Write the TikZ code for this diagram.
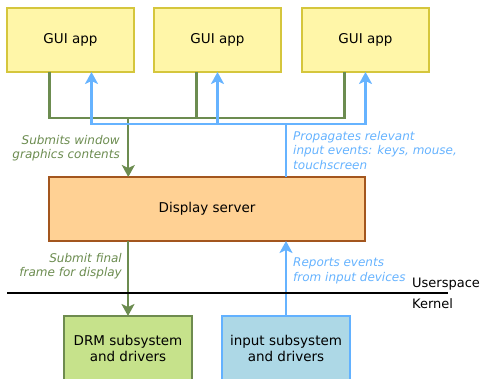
\documentclass[tikz,border=0pt]{standalone}
\usepackage{fontspec}
\setmainfont{DejaVu Sans}
\usetikzlibrary{arrows.meta,positioning}

\definecolor{appfill}{HTML}{FFF6A8}
\definecolor{appdraw}{HTML}{D5C63C}
\definecolor{serverfill}{HTML}{FFD194}
\definecolor{serverdraw}{HTML}{A3561E}
\definecolor{drmfill}{HTML}{C6E28B}
\definecolor{drmdraw}{HTML}{6E8B4F}
\definecolor{inputfill}{HTML}{ADD8E6}
\definecolor{inputdraw}{HTML}{62B1FF}
\definecolor{gline}{HTML}{6C8C50}
\definecolor{bline}{HTML}{66B3FF}

\begin{document}
\begin{tikzpicture}[
    x=1pt, y=1pt,
    node distance=20pt and 20pt,
    mybox/.style={draw, line width=2pt, outer sep=0pt, minimum width=127pt, minimum height=64pt, align=center, font=\fontsize{13.5}{16}\selectfont},
    appbox/.style={mybox, fill=appfill, draw=appdraw},
    serverbox/.style={mybox, fill=serverfill, draw=serverdraw, minimum width=316pt},
    drmbox/.style={mybox, fill=drmfill, draw=drmdraw, minimum width=128pt},
    inputbox/.style={mybox, fill=inputfill, draw=inputdraw, minimum width=128pt},
    mylabel/.style={inner sep=0pt, font=\fontsize{12}{14.5}\selectfont\itshape},
    greenedge/.style={line width=2.2pt, draw=gline},
    blueedge/.style={line width=2.2pt, draw=bline},
    myarrow/.style={-{Stealth[length=12pt,width=13pt,inset=3pt]}}
]
\useasboundingbox (0,0) rectangle (482,-379);

\node[appbox] (app1) at (70.5,-40) {GUI app};
\node[appbox] (app2) [right=20pt of app1] {GUI app};
\node[appbox] (app3) [right=21pt of app2] {GUI app};
\node[serverbox] (server) at (207,-209) {Display server};
\node[drmbox] (drm) at (128,-348) {DRM subsystem\\and drivers};
\node[inputbox] (input) at (286,-348) {input subsystem\\and drivers};

% window contents go down
\coordinate (gjoin) at (128.3,-118);
\draw[greenedge] ([xshift=-21pt]app1.south) |- ([xshift=-21pt]app3.south |- gjoin) -- ([xshift=-21pt]app3.south);
\draw[greenedge] ([xshift=-21pt]app2.south) -- ([xshift=-21pt]app2.south |- gjoin);
\draw[greenedge, myarrow] (gjoin) -- (gjoin |- server.north);
\draw[greenedge, myarrow] (server.south -| drm.north) -- (drm.north);

% input events go up
\coordinate (bjoin) at (286,-124);
\draw[blueedge] (server.north -| bjoin) -- (bjoin);
\draw[blueedge, myarrow] (bjoin) -| ([xshift=21pt]app1.south);
\draw[blueedge, myarrow] (bjoin) -| (app3.south);
\draw[blueedge, myarrow] (app2.south |- bjoin) -- (app2.south);
\draw[blueedge, myarrow] (input.north) -- (input.north |- server.south);

\node[mylabel, text=gline, align=right, anchor=north east] (lsubmit) at (120,-135) {Submits window\\graphics contents};
\node[mylabel, text=bline, align=left, anchor=north west] (lprop) at (293,-131) {Propagates relevant\\input events: keys, mouse,\\touchscreen};
\node[mylabel, text=gline, align=right, anchor=north east] (lfinal) at (122,-253) {Submit final\\frame for display};
\node[mylabel, text=bline, align=left, anchor=north west] (lreport) at (293,-258) {Reports events\\from input devices};

% userspace / kernel split
\draw[line width=1.5pt] (7,-293) -- (448,-293);
\node[anchor=base west, inner sep=0pt, font=\fontsize{13}{15}\selectfont] (user) at (412,-288) {Userspace};
\node[anchor=base west, inner sep=0pt, font=\fontsize{13}{15}\selectfont] (kernel) at (412,-309) {Kernel};
\end{tikzpicture}
\end{document}
